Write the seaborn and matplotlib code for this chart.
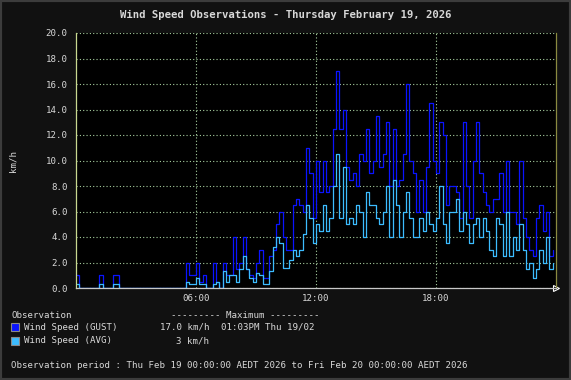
#!/usr/bin/env python

"""
Wind speed observations (gust and average) for one day, weather-station style.
"""

import numpy as np
import pandas as pd
import matplotlib
matplotlib.use("Agg")
import matplotlib.pyplot as plt
import seaborn as sns

# 10 minute samples, one row per hour (00:00 ... 23:50), km/h
gust = [
    1, 0, 0, 0, 0, 0,
    0, 1, 0, 0, 0, 1,
    1, 0, 0, 0, 0, 0,
    0, 0, 0, 0, 0, 0,
    0, 0, 0, 0, 0, 0,
    0, 0, 0, 2, 1, 1,
    2, 0.5, 1, 0, 0, 2,
    0.5, 0, 2, 1, 1, 4,
    1.5, 2, 4, 1.5, 1, 0.8,
    2, 3, 0.8, 0.8, 2.5, 3,
    5, 6, 4, 3, 3, 6.5,
    7, 6.5, 6, 11, 9, 5.5,
    10, 7.5, 10, 7.5, 8, 12.5,
    17, 12.5, 14, 9.5, 8.5, 9,
    8, 10.5, 10, 12.5, 9, 10,
    13.5, 9.5, 10.5, 13, 8, 12.5,
    8, 8.5, 10.5, 16, 10, 9,
    6, 8.5, 6, 9.5, 14.5, 10,
    9, 13, 12, 6.5, 8, 8,
    7.5, 5.5, 13, 8, 5.5, 10,
    13, 9, 7.5, 6.5, 6, 7,
    7, 9, 6, 10, 6, 6,
    5, 10, 5.5, 4, 3, 2.5,
    5.5, 6.5, 4.5, 6, 2.5, 3,
]

avg = [
    0.3, 0, 0, 0, 0, 0,
    0, 0.3, 0, 0, 0, 0.3,
    0.3, 0, 0, 0, 0, 0,
    0, 0, 0, 0, 0, 0,
    0, 0, 0, 0, 0, 0,
    0, 0, 0, 0.5, 0.3, 0.3,
    0.8, 0.3, 0.3, 0, 0, 0.3,
    0.5, 0, 1.3, 0.5, 1, 1,
    0.5, 1.5, 2.5, 1.5, 0.8, 0.5,
    1.2, 1, 0.3, 0.3, 1.3, 3.2,
    4, 3.5, 1.6, 1.6, 2.2, 3,
    2.5, 3, 4.2, 6.5, 5.5, 3.5,
    5, 4.5, 6.5, 4.5, 5.5, 8,
    10.5, 5.5, 9.5, 5, 5.5, 5,
    6.5, 6, 4, 7.5, 6.5, 6.5,
    5.5, 5, 6, 8, 4, 8.5,
    6.5, 4, 6, 7.5, 5.5, 4,
    4, 5.5, 4.5, 6, 5, 4.5,
    5.5, 8, 5, 3.5, 6, 6,
    7, 4.5, 6, 5, 3.5, 5,
    5.5, 4, 5.5, 4.5, 3, 2.5,
    5.5, 5, 2.5, 6, 2.5, 4,
    3, 5, 3, 1.5, 2, 0.8,
    1.5, 3, 2, 4, 1.5, 2,
]

hour_ticks = [6, 12, 18]
hour_labels = ["06:00", "12:00", "18:00"]
y_ticks = [0, 2, 4, 6, 8, 10, 12, 14, 16, 18, 20]

series_names = ["Wind Speed (GUST)", "Wind Speed (AVG)"]
series_max = ["17.0 km/h", "3 km/h"]
max_when = "01:03PM Thu 19/02"


def main():

    W, H = 571, 380
    bg = "#111111"
    grid_col = "#a8d0a0"
    txt_col = "#d8d8d8"
    gust_col = "#0a14ff"
    avg_col = "#3cbcff"

    sns.set_style("dark")
    plt.rcParams['font.family'] = ["DejaVu Sans Mono"]
    plt.rcParams['text.color'] = txt_col
    plt.rcParams['xtick.color'] = txt_col
    plt.rcParams['ytick.color'] = txt_col

    df = pd.DataFrame({"hour": np.arange(len(gust)) / 6.0,
                       "gust": gust, "avg": avg})

    fig = plt.figure(figsize=(W / 100, H / 100), dpi=100, facecolor=bg)
    ax = fig.add_axes([76 / W, 1 - 288 / H, 480 / W, 255 / H])
    ax.set_facecolor("black")

    sns.lineplot(data=df, x="hour", y="gust", ax=ax, color=gust_col,
                 lw=0.9, drawstyle="steps-post")
    sns.lineplot(data=df, x="hour", y="avg", ax=ax, color=avg_col,
                 lw=0.9, drawstyle="steps-post")

    ax.set_xlim(0, 24)
    ax.set_ylim(0, 20)
    ax.set_xticks(hour_ticks)
    ax.set_xticklabels(hour_labels)
    ax.set_yticks(y_ticks)
    ax.set_yticklabels(["%.1f" % v for v in y_ticks])
    ax.tick_params(axis="both", labelsize=6.6, length=3, width=0.8,
                   color="#c8d890", pad=3)
    ax.tick_params(axis="x", length=0, pad=4)

    ax.grid(True, ls=(0, (1, 2)), lw=0.8, color=grid_col)
    ax.set_axisbelow(True)
    ax.spines["top"].set_visible(False)
    ax.spines["left"].set_color("#c8d890")
    ax.spines["bottom"].set_color("#c8c8c8")
    ax.spines["right"].set_color("#8a8a40")
    for s in ["left", "bottom", "right"]:
        ax.spines[s].set_linewidth(0.9)

    ax.set_xlabel("")
    ax.set_ylabel("km/h", fontsize=6.6, color=txt_col, labelpad=20)

    # arrow at the end of the time axis
    ax.plot([1.0], [0.0], transform=ax.transAxes, marker=">", ms=5,
            mfc="none", mec="white", mew=0.8, clip_on=False)

    fig.text(0.5, 1 - 15 / H,
             "Wind Speed Observations - Thursday February 19, 2026",
             ha="center", va="center", fontsize=7.7, weight="bold")

    # legend block underneath
    fs = 6.6
    fig.text(11 / W, 1 - 315 / H, "Observation", fontsize=fs, va="center")
    fig.text(171 / W, 1 - 315 / H, "--------- Maximum ---------",
             fontsize=fs, va="center")
    for i, (name, col) in enumerate(zip(series_names, [gust_col, avg_col])):
        yc = 327 + i * 13.5
        fig.patches.append(plt.Rectangle((11 / W, 1 - (yc + 4) / H),
                                         8 / W, 8 / H, transform=fig.transFigure,
                                         facecolor=col, edgecolor="#888888",
                                         lw=0.8))
        fig.text(24 / W, 1 - yc / H, name, fontsize=fs, va="center")
        fig.text(209 / W, 1 - yc / H, series_max[i], fontsize=fs,
                 va="center", ha="right")
    fig.text(221 / W, 1 - 327 / H, max_when, fontsize=fs, va="center")

    fig.text(11 / W, 1 - 366 / H,
             "Observation period : Thu Feb 19 00:00:00 AEDT 2026 to "
             "Fri Feb 20 00:00:00 AEDT 2026", fontsize=fs, va="center")

    # outer frame
    fig.patches.append(plt.Rectangle((0, 0), 1, 1, transform=fig.transFigure,
                                     facecolor="none", edgecolor="#3c3c3c",
                                     lw=3))

    fig.savefig("out.png", dpi=100, facecolor=bg)


if __name__ == "__main__":

    main()
